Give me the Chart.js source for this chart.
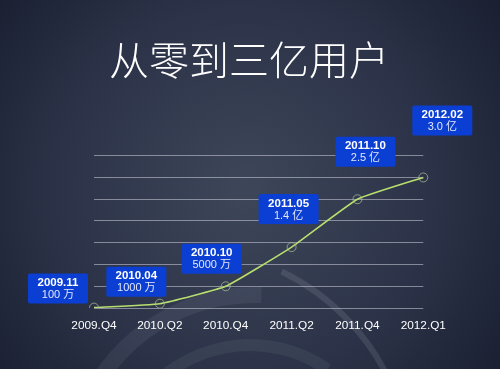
<!DOCTYPE html>
<html>
<head>
<meta charset="utf-8">
<script src="https://cdn.jsdelivr.net/npm/chart.js@4/dist/chart.umd.min.js"></script>
<style>
html,body{margin:0;padding:0;background:#1c2236;}
#wrap{width:500px;height:369px;position:relative;}
</style>
</head>
<body>
<div id="wrap"><canvas id="c" width="500" height="369"></canvas></div>
<script>
// ---- data ----
const categories = ['2009.Q4', '2010.Q2', '2010.Q4', '2011.Q2', '2011.Q4', '2012.Q1'];
const users = [0.01, 0.1, 0.5, 1.4, 2.5, 3.0];            // 亿
const noteDates = ['2009.11', '2010.04', '2010.10', '2011.05', '2011.10', '2012.02'];
const noteValues = ['100 万', '1000 万', '5000 万', '1.4 亿', '2.5 亿', '3.0 亿'];
const titleText = '从零到三亿用户';

// label box placement relative to each point (layout only)
const noteOffsets = [[-36, -19], [-23.5, -22], [-14, -27.5], [-3, -38], [8, -47.5], [19, -57]];

const bgPlugin = {
  id: 'bg',
  beforeDraw(chart) {
    const ctx = chart.ctx, w = chart.width, h = chart.height;
    ctx.save();
    const g = ctx.createRadialGradient(245, 190, 10, 245, 190, 330);
    g.addColorStop(0, '#3d4559');
    g.addColorStop(0.55, '#2c3348');
    g.addColorStop(1, '#181d2f');
    ctx.fillStyle = g;
    ctx.fillRect(0, 0, w, h);
    // faint decorative arcs
    const d = Math.PI / 180;
    ctx.strokeStyle = 'rgba(205,210,225,0.13)';
    ctx.lineWidth = 6;
    ctx.beginPath(); ctx.arc(180, 480, 232, -64 * d, -24 * d); ctx.stroke();
    ctx.strokeStyle = 'rgba(205,210,225,0.08)';
    ctx.lineWidth = 16;
    ctx.beginPath(); ctx.arc(255, 480, 185, 205 * d, 272 * d); ctx.stroke();
    ctx.strokeStyle = 'rgba(205,210,225,0.07)';
    ctx.lineWidth = 12;
    ctx.beginPath(); ctx.arc(250, 480, 135, 215 * d, 305 * d); ctx.stroke();
    // title
    ctx.fillStyle = '#ffffff';
    ctx.textAlign = 'center';
    ctx.textBaseline = 'middle';
    ctx.font = '300 40px "Noto Sans CJK SC", sans-serif';
    ctx.fillText(titleText, 249, 60);
    ctx.restore();
  }
};

const notePlugin = {
  id: 'notes',
  afterDatasetsDraw(chart) {
    const ctx = chart.ctx;
    const meta = chart.getDatasetMeta(0);
    ctx.save();
    meta.data.forEach((pt, i) => {
      const cx = pt.x + noteOffsets[i][0];
      const cy = pt.y + noteOffsets[i][1];
      const bw = 60, bh = 30;
      ctx.fillStyle = '#0b3fd3';
      ctx.beginPath();
      if (ctx.roundRect) ctx.roundRect(cx - bw / 2, cy - bh / 2, bw, bh, 2);
      else ctx.rect(cx - bw / 2, cy - bh / 2, bw, bh);
      ctx.fill();
      ctx.fillStyle = '#ffffff';
      ctx.textAlign = 'center';
      ctx.textBaseline = 'middle';
      ctx.font = 'bold 11.5px "Liberation Sans", Arial, sans-serif';
      ctx.fillText(noteDates[i], cx, cy - 5.5);
      ctx.fillStyle = '#e3e8f8';
      ctx.font = '11px "Liberation Sans", "Noto Sans CJK SC", sans-serif';
      ctx.fillText(noteValues[i], cx, cy + 6.5);
    });
    ctx.restore();
  }
};

new Chart(document.getElementById('c'), {
  type: 'line',
  data: {
    labels: categories,
    datasets: [{
      data: users,
      borderColor: '#b8df6e',
      borderWidth: 1.6,
      tension: 0.12,
      pointRadius: 4.5,
      pointBorderWidth: 1,
      pointBorderColor: 'rgba(170,190,150,0.75)',
      pointBackgroundColor: 'rgba(0,0,0,0)'
    }]
  },
  options: {
    responsive: false,
    animation: false,
    layout: { padding: { left: 94, right: 76.7, top: 155.7, bottom: 24.8 } },
    plugins: {
      legend: { display: false },
      tooltip: { enabled: false },
      title: { display: false }
    },
    scales: {
      x: {
        offset: false,
        grid: { display: false, drawTicks: false },
        border: { display: false },
        ticks: {
          color: '#ffffff',
          padding: 11,
          maxRotation: 0,
          font: { family: '"Liberation Sans", Arial, sans-serif', size: 11.8 }
        }
      },
      y: {
        min: 0,
        max: 3.5,
        grid: { color: 'rgba(205,208,220,0.55)', lineWidth: 1, drawTicks: false },
        border: { display: false },
        ticks: { display: false, stepSize: 0.5 }
      }
    }
  },
  plugins: [bgPlugin, notePlugin]
});
</script>
</body>
</html>
